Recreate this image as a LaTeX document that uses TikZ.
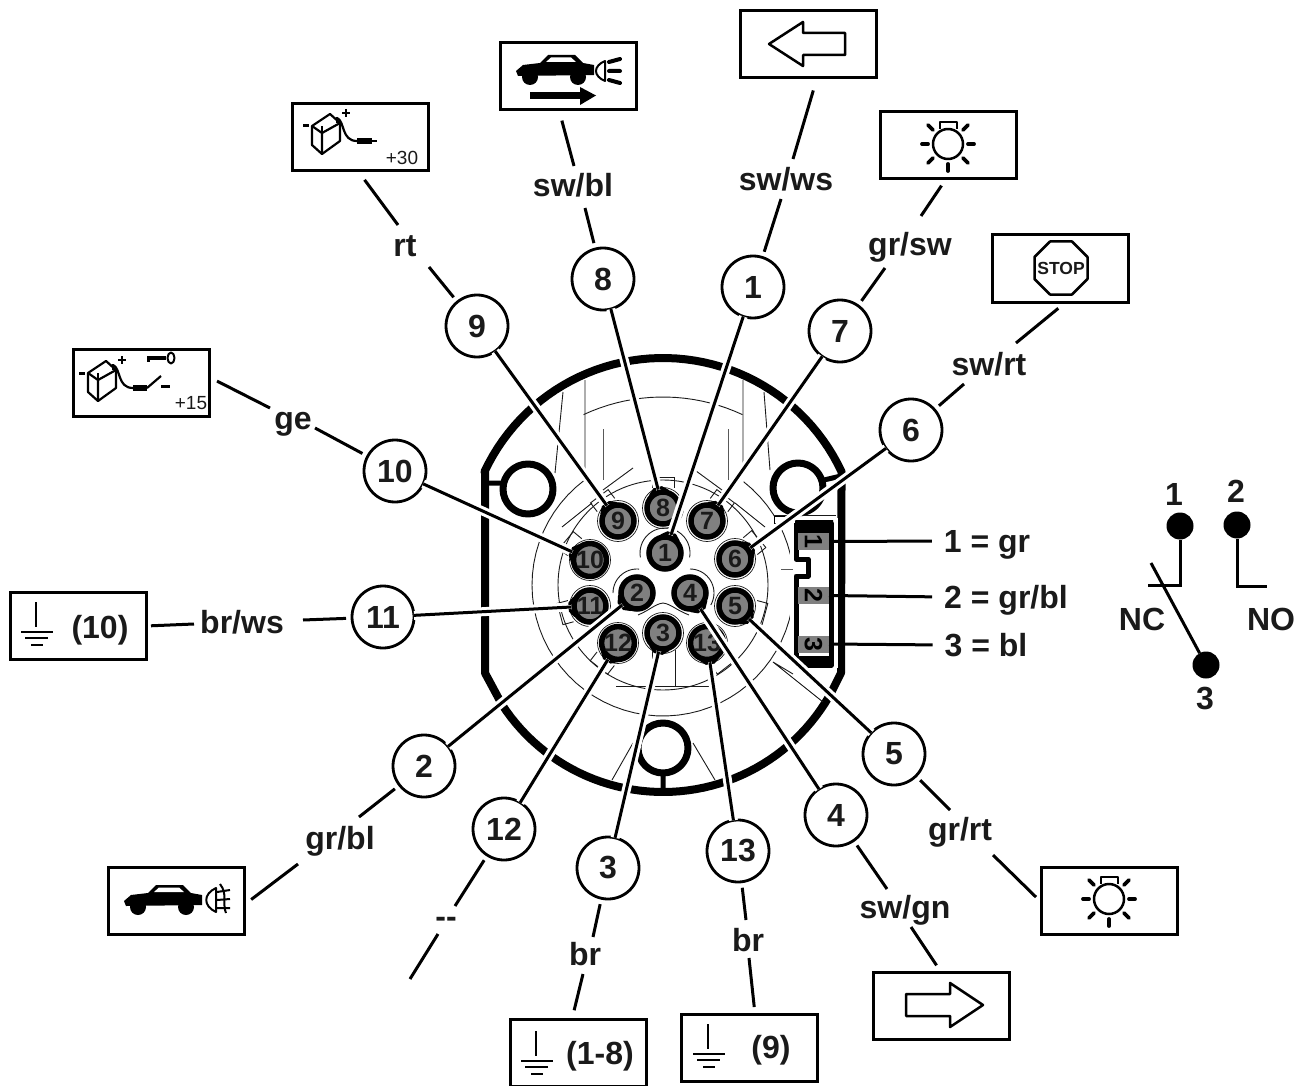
\documentclass[tikz,border=0pt]{standalone}
\usepackage{fontspec}
\setmainfont{Liberation Sans}
\usetikzlibrary{calc}
\definecolor{ink}{HTML}{1A1A1A}
\definecolor{pingray}{HTML}{808080}
\tikzset{
  lab/.style={font=\bfseries\fontsize{32}{36}\selectfont,text=ink,inner xsep=4pt,inner ysep=8pt,outer sep=0pt,text height=23pt,text depth=0pt,anchor=center},
  numc/.style={circle,draw=black,line width=2.8pt,minimum size=62pt,inner sep=0pt,outer sep=0pt,fill=white,font=\bfseries\fontsize{32}{36}\selectfont,text=ink},
  boxn/.style={draw=black,line width=3pt,fill=white,minimum width=136pt,minimum height=67pt,inner sep=0pt,outer sep=0pt},
  wire/.style={draw=black,line width=3pt},
  pinwire/.style={draw=black,line width=3pt,shorten >=3pt,preaction={draw=white,line width=9pt}},
  thick body/.style={draw=black,line width=8pt,line join=round},
  fine/.style={draw=ink,line width=0.9pt},
  finegray/.style={draw=black!65,line width=1pt},
  pinn/.style={circle,draw=black,line width=5.5pt,fill=pingray,minimum size=32pt,inner sep=0pt,outer sep=0pt,font=\bfseries\fontsize{25}{28}\selectfont,text=ink},
  icon/.style={draw=black,line width=2.5pt,line join=round},
  ray/.style={draw=black,line width=3.8pt,line cap=round},
  hook/.style={draw=black,line width=3.4pt,line cap=round},
  gr/.style={draw=black,line width=2.8pt},
  sqn/.style={fill=pingray,minimum width=31pt,minimum height=17pt,inner sep=0pt,outer sep=0pt},
  sqd/.style={font=\bfseries\fontsize{25}{28}\selectfont,text=black,rotate=-90,inner sep=0pt},
  dot/.style={circle,fill=black,minimum size=27pt,inner sep=0pt,outer sep=0pt},
  sw/.style={draw=black,line width=3pt},
  small/.style={font=\fontsize{19}{21}\selectfont,text=ink,inner sep=0pt},
  pl/.style={lab,inner sep=0pt},
}
\newcommand{\bulbicon}{%
  \draw[icon] (0,0) circle[radius=15pt];
  \draw[icon] (-8,-15) -- (-8,-22) -- (9,-22) -- (9,-15);
  \draw[ray] (-26,0) -- (-20,0) (20,0) -- (26,0) (0,20) -- (0,27);
  \draw[ray] (-20,-19) -- (-15,-14) (20,-19) -- (15,-14) (-20,19) -- (-15,14) (20,19) -- (15,14);
}
\newcommand{\batteryicon}{%
  \draw[icon,line width=2.2pt] (21,23) -- (39,11) -- (49,20) -- (49,38) -- (31,51) -- (21,42) -- cycle;
  \draw[icon,line width=2.2pt] (21,23) -- (31,30) -- (49,20) (31,30) -- (31,51);
  \draw[icon,line width=1.6pt] (31,23) -- (31,29) (46,14) -- (46,20);
  \draw[icon,line width=1.6pt] (51,10) -- (59,10) (55,6) -- (55,14);
  \draw[icon,line width=3pt] (12,23) -- (18,23);
}
\newcommand{\groundicon}{%
  \draw[gr] (27,11) -- (27,36);
  \draw[gr] (12,41) -- (44,41) (16,47) -- (39,47);
  \draw[gr] (22,54) -- (34,54);
}
\newcommand{\carbody}{%
  \fill[black] (17,29) -- (24,23) -- (41,21) -- (49,13) -- (76,13) -- (84,21) -- (95,23) -- (95,33) -- (19,34) -- cycle;
  \fill[black] (31,35) circle[radius=8pt] (79,35) circle[radius=8pt];
  \fill[white] (52,15.5) -- (72,15.5) -- (77,20) -- (47,20) -- cycle;
}
\begin{document}
\begin{tikzpicture}[x=1pt,y=-1pt]
\useasboundingbox (0,0) rectangle (1304,1086);
% body outline
\draw[thick body] (485,673) -- (485,471) -- plot[domain=205:335,samples=50] ({663+197*cos(\x)},{555+197*sin(\x)}) -- (841,673) -- (829,697) -- plot[domain=30:147,samples=50] ({663+192*cos(\x)},{600+192*sin(\x)}) -- cycle;
% mounting rings
\draw[thick body,line width=7pt] (528,489) circle[radius=25pt];
\draw[thick body,line width=7pt] (798,488) circle[radius=25pt];
\draw[thick body,line width=7pt] (663,748) circle[radius=25pt];
\draw[thick body,line width=5pt] (485,483) -- (501,483) (824,480) -- (841,476) (663,773) -- (663,792);
% fine interior lines
\draw[fine] (563,392) -- (555,473) (585,380) -- (585,470) (764,392) -- (770,470) (743,380) -- (743,470);
\draw[finegray] (603,429) -- (603,480) (728,429) -- (728,480);
\draw[fine] plot[domain=245:295,samples=20] ({663+188*cos(\x)},{585+188*sin(\x)});
\draw[fine] plot[domain=233:-52,samples=60] ({663+131*cos(\x)},{585+131*sin(\x)});
\draw[fine] (663,585) circle[radius=105pt];
\draw[fine] (633,468) -- (603,490) (562,527) -- (592,503) (692,468) -- (722,490) (765,527) -- (735,503);
\draw[fine] (616,686) -- (711,686) (652,650) -- (652,686) (675,650) -- (675,686);
\draw[fine] (612,780) -- (633,743) (715,780) -- (693,743);
\draw[fine] (823,702) -- (773,662) -- (793,674);
% pin halos and thin rings
\foreach \x/\y in {735/606,735/559,707/521,663/508,618/521,590/560,590/606,618/643,707/643,665/553,637/593,663/633,690/593}{
  \fill[white] (\x,\y) circle[radius=21pt];
}
\foreach \x/\y in {735/606,735/559,707/521,663/508,618/521,590/560,590/606,618/643,707/643,663/633}{
  \draw[fine,line width=0.7pt] (\x,\y) circle[radius=20.5pt];
}
% thin tabs
\foreach \x/\y/\a in {663/508/90,707/521/53,618/521/127,735/559/40,590/560/140,618/643/232,707/643/-52,735/606/-15,590/606/195}{
  \begin{scope}[shift={(\x,\y)},rotate=\a]
    \draw[fine] (20,-11) -- (31,-11) -- (31,11) -- (20,11);
  \end{scope}
}
% inner clover
\draw[fine] plot[domain=170:370,samples=30] ({665+25*cos(\x)},{553+25*sin(\x)});
\draw[fine] plot[domain=-90:30,samples=20] ({690+24*cos(\x)},{593+24*sin(\x)});
\draw[fine] plot[domain=180:275,samples=20] ({637+24*cos(\x)},{593+24*sin(\x)});
\draw[fine] (638,615) .. controls (650,610) and (655,604) .. (663,603) .. controls (671,604) and (676,610) .. (689,615);
% pins
\foreach \i/\x/\y in {1/665/553,2/637/593,3/663/633,4/690/593,5/735/606,6/735/559,7/707/521,8/663/508,9/618/521,10/590/560,11/590/606,12/618/643,13/707/643}{
  \node[pinn] (p\i) at (\x,\y) {\i};
}
% connector block
\draw[fill=white,draw=black,line width=0.9pt] (774,516) -- (774,523) -- (785,523) -- (785,516) -- cycle;
\draw[fine] (774,515) -- (836,515);
\fill[white] (790,518) rectangle (838,668);
\draw[black,line width=5pt,line join=round] (797,523) -- (831,523) -- (831,665) -- (797,665);
\draw[black,line width=5pt,line join=round] (796,523) -- (796,559) -- (808,559) -- (808,576) -- (796,576) -- (796,665);
\fill[black] (795,520) rectangle (833,533) (795,656) rectangle (833,667);
\fill[white] (793,562) rectangle (803,574);
\draw[finegray] (781,569) -- (793,569);
\node[sqn] (s1) at (813.5,541.5) {}; \node[sqd] at (s1) {1};
\node[sqn] (s2) at (813.5,595.5) {}; \node[sqd] at (s2) {2};
\node[sqn] (s3) at (813.5,644) {}; \node[sqd] at (s3) {3};
% numbered circles
\node[numc] (c1) at (753,287) {1};
\node[numc] (c2) at (424,766) {2};
\node[numc] (c3) at (608,868) {3};
\node[numc] (c4) at (836,815) {4};
\node[numc] (c5) at (894,754) {5};
\node[numc] (c6) at (911,430) {6};
\node[numc] (c7) at (840,331) {7};
\node[numc] (c8) at (603,279) {8};
\node[numc] (c9) at (477,326) {9};
\node[numc] (c10) at (395,471) {10};
\node[numc] (c11) at (383,617) {11};
\node[numc] (c12) at (504,829) {12};
\node[numc] (c13) at (738,851) {13};
% pin wires
\foreach \i in {1,...,13}{
  \draw[pinwire] (c\i) -- (p\i);
  \draw[hook] let \p1=($(c\i)-(p\i)$),\n1={atan2(\y1,\x1)} in
     ([shift={(\n1-30:17.5pt)}]p\i.center) -- ([shift={(\n1-9:20.5pt)}]p\i.center)
     ([shift={(\n1+30:17.5pt)}]p\i.center) -- ([shift={(\n1+9:20.5pt)}]p\i.center);
}
% colour labels
\node[lab] (l1) at (786,179) {sw/ws};
\node[lab] (l2) at (340,838) {gr/bl};
\node[lab] (l3) at (585,954) {br};
\node[lab] (l4) at (905,907) {sw/gn};
\node[lab] (l5) at (960,829) {gr/rt};
\node[lab] (l6) at (989,363.5) {sw/rt};
\node[lab] (l7) at (910,244) {gr/sw};
\node[lab] (l8) at (573,185) {sw/bl};
\node[lab] (l9) at (405,245) {rt};
\node[lab] (l10) at (293,418) {ge};
\node[lab] (l11) at (242,622) {br/ws};
\node[lab] (l12) at (446,916) {{-}{-}};
\node[lab] (l13) at (748,939.5) {br};
% boxes
\node[boxn] (b1) at (808.5,44.5) {};
\node[boxn] (b2) at (176,900.5) {};
\node[boxn] (b3) at (578,1052.5) {};
\node[boxn] (b4) at (941,1005.5) {};
\node[boxn] (b5) at (1109,900.5) {};
\node[boxn] (b6) at (1060,268.5) {};
\node[boxn] (b7) at (948,145.5) {};
\node[boxn] (b8) at (568,76.5) {};
\node[boxn] (b9) at (360,137.5) {};
\node[boxn] (b10) at (141,382.5) {};
\node[boxn] (b11) at (78,626) {};
\node[boxn] (b13) at (749.5,1047.5) {};
% free ends beside the colour labels
\coordinate (t1) at (781,199);  \coordinate (u1) at (793,159);
\coordinate (t2) at (359,817);  \coordinate (u2) at (298,864);
\coordinate (t3) at (593,937);  \coordinate (u3) at (583,974);
\coordinate (t4) at (887,889);  \coordinate (u4) at (911,927);
\coordinate (t5) at (950,810);  \coordinate (u5) at (993,855);
\coordinate (t6) at (964,384);  \coordinate (u6) at (1016,343);
\coordinate (t7) at (885,268);  \coordinate (u7) at (921,216);
\coordinate (t8) at (585,208);  \coordinate (u8) at (574,166);
\coordinate (t9) at (429,267);  \coordinate (u9) at (398,225);
\coordinate (t10) at (315,428); \coordinate (u10) at (270,408);
\coordinate (t11) at (303,620); \coordinate (u11) at (194,624);
\coordinate (t12) at (455,906); \coordinate (u12) at (438,934);
\coordinate (t13) at (746,920); \coordinate (u13) at (749,958);
\coordinate (free12) at (410,979);
% circle to label to box
\foreach \i in {1,...,13}{ \draw[wire,shorten <=6pt] (c\i) -- (t\i); }
\draw[wire,shorten >=13pt] (u1) -- ([xshift=8.5pt]b1.south);
\draw[wire,shorten >=9pt] (u2) -- ([yshift=-4.5pt]b2.east);
\draw[wire,shorten >=9pt] (u3) -- ([xshift=-6pt]b3.north);
\draw[wire,shorten >=8pt] (u4) -- (b4.north);
\draw[wire,shorten >=7pt] (u5) -- ([yshift=-1.5pt]b5.west);
\draw[wire,shorten >=10pt] (u6) -- ([xshift=6pt]b6.south);
\draw[wire,shorten >=8pt] (u7) -- ([xshift=-2pt]b7.south);
\draw[wire,shorten >=11pt] (u8) -- ([xshift=-9pt]b8.south);
\draw[wire,shorten >=11pt] (u9) -- ([xshift=-2pt]b9.south);
\draw[wire,shorten >=9pt] (u10) -- ([yshift=5.5pt]b10.east);
\draw[wire,shorten >=5pt] (u11) -- (b11.east);
\draw[wire] (u12) -- (free12);
\draw[wire,shorten >=7pt] (u13) -- ([xshift=5.5pt]b13.north);
% box icons
\draw[icon] (769,44) -- (803,22) -- (803,33) -- (845,33) -- (845,55) -- (803,55) -- (803,66) -- cycle;
\draw[icon] (983,1005) -- (950,983) -- (950,994) -- (906,994) -- (906,1016) -- (950,1016) -- (950,1027) -- cycle;
\begin{scope}[shift={(948,144)}]\bulbicon\end{scope}
\begin{scope}[shift={(1109,899)}]\bulbicon\end{scope}
% stop sign
\begin{scope}[shift={(1061,268)}]
  \draw[icon] (-11,-26.5) -- (11,-26.5) -- (26.5,-11) -- (26.5,11) -- (11,26.5) -- (-11,26.5) -- (-26.5,11) -- (-26.5,-11) -- cycle;
  \node[font=\bfseries\fontsize{17.5}{19}\selectfont,text=ink,inner sep=0pt] (stoptxt) at (0,0) {STOP};
\end{scope}
% +30 battery
\begin{scope}[shift={(291,103)}]
  \batteryicon
  \draw[icon,line width=2.2pt] (46,15) .. controls (54,18) and (50,38) .. (66,38);
  \fill[black] (66,35) rectangle (81,41);
  \draw[icon,line width=2.2pt] (81,38) -- (86,38);
\end{scope}
\node[small] (t30) at (402,158) {+30};
% +15 battery
\begin{scope}[shift={(67,350)}]
  \batteryicon
  \draw[icon,line width=2.2pt] (46,15) .. controls (54,18) and (50,38) .. (66,38);
  \fill[black] (66,35) rectangle (80,41);
  \draw[icon,line width=2.2pt] (80,38) -- (94,26);
  \draw[icon,line width=3pt] (94,36) -- (103,36);
\end{scope}
\draw[icon,line width=3.2pt] (147,358) -- (166,358);
\draw[icon,line width=3pt] (148,356) -- (148,362);
\draw[icon,line width=2pt] (171,358) ellipse[x radius=3.5pt,y radius=5.5pt];
\node[small] (t15) at (191,403) {+15};
% headlamp car
\begin{scope}[shift={(499,42)}]
  \carbody
  \draw[icon,line width=2pt] (106,19) .. controls (94,24) and (94,34) .. (106,39) -- cycle;
  \draw[ray,line width=4pt] (110,20) -- (121,17) (110,29) -- (121,29) (110,38) -- (121,41);
  \fill[black] (31,50) rectangle (81,57);
  \fill[black] (81,45) -- (97,53.5) -- (81,63) -- cycle;
\end{scope}
% fog car
\begin{scope}[shift={(107,872)}]
  \carbody
  \draw[icon,line width=2pt] (109,16) .. controls (96,22) and (96,34) .. (109,40) -- cycle;
  \draw[icon,line width=2pt] (113,12) .. controls (121,22) and (115,32) .. (119,41);
  \draw[icon,line width=2pt] (110,20) -- (123,18) (110,28) -- (123,27) (110,36) -- (123,36);
\end{scope}
% ground boxes
\begin{scope}[shift={(9,591)}]\groundicon\end{scope}
\begin{scope}[shift={(509,1020)}]\groundicon\end{scope}
\begin{scope}[shift={(681,1013)}]\groundicon\end{scope}
\node[pl] (g10) at (100,627) {(10)};
\node[pl] (g18) at (600,1053) {(1-8)};
\node[pl] (g9) at (771,1047) {(9)};
% pin code labels
\node[pl] (k1) at (987,541) {1 = gr};
\node[pl] (k2) at (1006,597) {2 = gr/bl};
\node[pl] (k3) at (986,645) {3 = bl};
\draw[wire,shorten >=12pt] (s1.east) -- (k1.west);
\draw[wire,shorten >=12pt] (s2.east) -- (k2.west);
\draw[wire,shorten >=12pt] (s3.east) -- (k3.west);
% switch
\node[dot] (d1) at (1180,526) {};
\node[dot] (d2) at (1237,525) {};
\node[dot] (d3) at (1206,665) {};
\node[pl] (n1) at (1174,494) {1};
\node[pl] (n2) at (1236,491) {2};
\node[pl] (n3) at (1205,698) {3};
\node[pl] (nc) at (1142,619) {NC};
\node[pl] (no) at (1271,619) {NO};
\coordinate (ncend) at (1148,585);
\coordinate (noend) at (1267,586);
\coordinate (swtop) at (1151,563);
\draw[sw] (d1) |- (ncend);
\draw[sw] (d2) |- (noend);
\draw[sw] (d3) -- (swtop);
\end{tikzpicture}
\end{document}
